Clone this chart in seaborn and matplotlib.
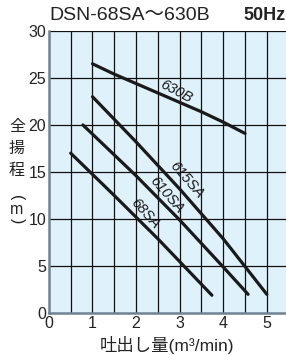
import numpy as np
import pandas as pd
import matplotlib
matplotlib.use("Agg")
import matplotlib.pyplot as plt
import seaborn as sns

# curve data (flow m3/min, head m)
x_630b = [1.0, 1.5, 2.0, 2.5, 3.0, 3.5, 4.0, 4.5]
y_630b = [26.5, 25.4, 24.4, 23.4, 22.4, 21.4, 20.3, 19.1]
x_615sa = [1.0, 2.0, 3.0, 4.0, 5.0]
y_615sa = [23.0, 18.2, 13.2, 7.9, 2.0]
x_610sa = [0.78, 2.0, 3.0, 4.0, 4.57]
y_610sa = [20.0, 14.6, 9.9, 4.9, 2.0]
x_68sa = [0.5, 1.5, 2.5, 3.74]
y_68sa = [17.0, 12.5, 7.9, 1.9]

models = ["630B", "615SA", "610SA", "68SA"]
xs = [x_630b, x_615sa, x_610sa, x_68sa]
ys = [y_630b, y_615sa, y_610sa, y_68sa]

# label position / angle for each curve
lab_x = [2.92, 3.17, 2.70, 2.20]
lab_y = [23.6, 14.2, 12.6, 10.6]
lab_rot = [-28, -49, -49, -48]

xticks = [0, 1, 2, 3, 4, 5]
yticks = [0, 5, 10, 15, 20, 25, 30]

sns.set_style("white")
plt.rcParams["font.family"] = ["Liberation Sans", "Noto Sans CJK JP", "DejaVu Sans"]

rows = []
for m, xx, yy in zip(models, xs, ys):
    for a, b in zip(xx, yy):
        rows.append({"model": m, "q": a, "h": b})
df = pd.DataFrame(rows)

fig = plt.figure(figsize=(2.86, 3.55), dpi=100)
ax = fig.add_axes([0.171, 0.118, 0.829, 0.795])
ax.set_facecolor("#dff1fb")

for x in np.arange(0.5, 5.5, 0.5):
    ax.axvline(x, color="#111111", lw=0.9, zorder=1)
for y in yticks[1:]:
    ax.axhline(y, color="#111111", lw=0.9, zorder=1)

sns.lineplot(data=df, x="q", y="h", units="model", estimator=None,
             color="#1a1a1a", lw=2.3, sort=False, ax=ax, zorder=3)

for m, lx, ly, r in zip(models, lab_x, lab_y, lab_rot):
    ax.text(lx, ly, m, rotation=r, rotation_mode="anchor", ha="center", va="center",
            fontsize=10.5, style="italic", color="#1a1a1a", zorder=4)

ax.set_xlim(0, 5.44)
ax.set_ylim(0, 30)
ax.set_xticks(xticks)
ax.set_yticks(yticks)
ax.tick_params(length=0, labelsize=11.5, pad=2, colors="#222222")
ax.set_xlabel("")
ax.set_ylabel("")
for s in ["top", "right"]:
    ax.spines[s].set_visible(False)
for s in ["left", "bottom"]:
    ax.spines[s].set_color("#6f8291")
    ax.spines[s].set_linewidth(1.8)

fig.text(0.171, 0.956, "DSN-68SA～630B", fontsize=14, ha="left", va="center", color="#222222")
fig.text(1.0, 0.956, "50Hz", fontsize=13, fontweight="bold", ha="right", va="center", color="#222222")
fig.text(0.584, 0.028, "吐出し量(m³/min)", fontsize=12.5, ha="center", va="center", color="#222222")

cjk = ["Noto Sans CJK JP", "DejaVu Sans"]
ylab_chars = ["全", "揚", "程"]
ylab_pos = [126, 148, 170]
for ch, py in zip(ylab_chars, ylab_pos):
    fig.text(17 / 286, 1 - py / 355, ch, fontsize=11.5, ha="center", va="center",
             color="#222222", family=cjk)
# "(m)" written vertically: rotated parentheses around the m
fig.text(17 / 286, 1 - 198 / 355, "(", rotation=-90, fontsize=11.5, ha="center", va="center", color="#222222")
fig.text(17 / 286, 1 - 209 / 355, "m", fontsize=11.5, ha="center", va="center", color="#222222")
fig.text(17 / 286, 1 - 221 / 355, ")", rotation=-90, fontsize=11.5, ha="center", va="center", color="#222222")

fig.savefig("out.png", dpi=100)
